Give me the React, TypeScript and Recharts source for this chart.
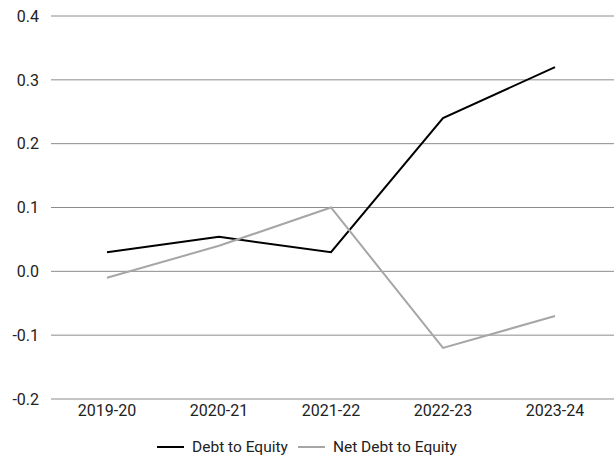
import { LineChart, Line, XAxis, YAxis, CartesianGrid, Legend } from 'recharts'

const years = ['2019-20', '2020-21', '2021-22', '2022-23', '2023-24']
const debtToEquity = [0.03, 0.054, 0.03, 0.24, 0.32]
const netDebtToEquity = [-0.01, 0.04, 0.1, -0.12, -0.07]
const yTicks = [-0.2, -0.1, 0, 0.1, 0.2, 0.3, 0.4]

const data = years.map((year, i) => ({
  year,
  debt: debtToEquity[i],
  net: netDebtToEquity[i],
}))

const seriesInfo = [
  { key: 'debt', name: 'Debt to Equity', color: '#000000' },
  { key: 'net', name: 'Net Debt to Equity', color: '#a6a6a6' },
]

const font = 'Roboto, "Liberation Sans", sans-serif'

function LegendRow() {
  return (
    <div
      style={{
        display: 'flex',
        justifyContent: 'center',
        alignItems: 'center',
        height: 30,
        gap: 10,
        fontFamily: font,
        fontSize: 15.5,
        color: '#222',
      }}
    >
      {seriesInfo.map((s) => (
        <div key={s.key} style={{ display: 'flex', alignItems: 'center', gap: 8 }}>
          <div style={{ width: 27, height: 2, background: s.color }} />
          <span>{s.name}</span>
        </div>
      ))}
    </div>
  )
}

export default function App() {
  return (
    <div style={{ width: 614, height: 470, background: '#fff' }}>
      <style>{'body{margin:0}'}</style>
      <LineChart width={614} height={470} data={data} margin={{ top: 16, right: 0, left: 0, bottom: 8 }}>
        <CartesianGrid stroke="#8c8c8c" vertical={false} />
        <XAxis
          dataKey="year"
          axisLine={false}
          tickLine={false}
          height={33}
          tickMargin={0}
          padding={{ left: 56, right: 59 }}
          tick={{ fontSize: 16, fill: '#222', fontFamily: font }}
        />
        <YAxis
          domain={[-0.2, 0.4]}
          ticks={yTicks}
          width={51}
          axisLine={false}
          tickLine={false}
          tickMargin={6}
          tickFormatter={(v: number) => v.toFixed(1)}
          tick={{ fontSize: 16, fill: '#222', fontFamily: font }}
        />
        <Legend verticalAlign="bottom" height={30} content={() => <LegendRow />} />
        <Line type="linear" dataKey="debt" name="Debt to Equity" stroke="#000000" strokeWidth={2} dot={false} isAnimationActive={false} />
        <Line type="linear" dataKey="net" name="Net Debt to Equity" stroke="#a6a6a6" strokeWidth={2} dot={false} isAnimationActive={false} />
      </LineChart>
    </div>
  )
}
